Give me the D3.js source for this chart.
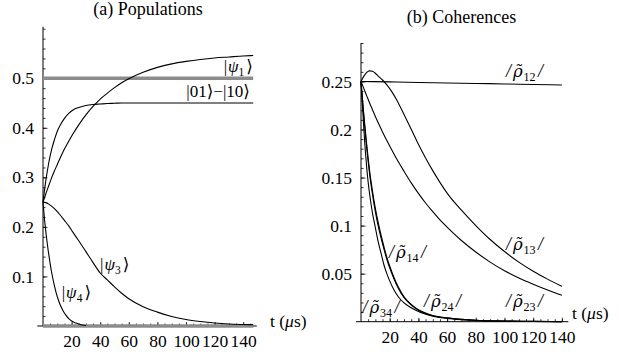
<!DOCTYPE html>
<html>
<head>
<meta charset="utf-8">
<script src="https://cdn.jsdelivr.net/npm/d3@7"></script>
<style>
  html, body { margin: 0; padding: 0; background: #fff; }
  svg { display: block; }
</style>
</head>
<body>
<script>
// ---------- data: (a) Populations ----------
const tL = [0,2,4,6,8,10,12,15,18,21,25,30,35,40,45,50,55,60,70,80,90,100,110,120,130,140,147];
const psi1 = [0.25,0.267,0.283,0.299,0.313,0.326,0.339,0.357,0.373,0.388,0.406,0.426,0.443,0.458,0.470,0.481,0.491,0.499,0.512,0.522,0.529,0.534,0.538,0.541,0.543,0.545,0.546];
const bellState = [0.25,0.294,0.329,0.356,0.376,0.393,0.405,0.419,0.429,0.436,0.441,0.445,0.447,0.448,0.449,0.4495,0.45,0.45,0.45,0.45,0.45,0.45,0.45,0.45,0.45,0.45,0.45];
const psi3 = [0.25,0.249,0.246,0.242,0.237,0.231,0.224,0.213,0.202,0.189,0.172,0.150,0.128,0.107,0.093,0.079,0.066,0.055,0.039,0.028,0.019,0.013,0.009,0.006,0.004,0.003,0.0025];
const tPsi4 = [0,1,2,3,4,5,6,8,10,12,14,16,18,20,23,26,30];
const psi4 = [0.25,0.217,0.19,0.166,0.145,0.126,0.109,0.081,0.059,0.043,0.031,0.022,0.015,0.010,0.006,0.003,0.001];
const grayT = [0, 147];
const grayLevels = [0.5, 0];

// ---------- data: (b) Coherences ----------
const tR = [0,2,4,6,8,10,12,15,18,21,25,30,35,40,45,50,55,60,70,80,90,100,110,120,130,140];
const rho13 = [0.25,0.2555,0.2595,0.261,0.2605,0.2585,0.2555,0.2515,0.2465,0.2405,0.2305,0.2155,0.2003,0.1846,0.1704,0.1572,0.145,0.1338,0.116,0.1,0.0855,0.073,0.062,0.0525,0.0443,0.0368];
const rho23 = [0.25,0.2425,0.235,0.2275,0.2205,0.2135,0.207,0.1975,0.1885,0.18,0.169,0.1565,0.1445,0.1335,0.1235,0.1145,0.106,0.0985,0.0845,0.0725,0.062,0.053,0.0455,0.039,0.033,0.0275];
const tRho12 = [0,20,40,60,80,100,120,140];
const rho12 = [0.25,0.2495,0.2489,0.2484,0.2479,0.2474,0.2468,0.2463];
const tFast = [0,1,2,3,4,5,6,7,8,10,12,14,16,18,20,23,26,30,35,40,45,50,60,70,80,100,120,140];
const rho14 = [0.25,0.232,0.215,0.199,0.184,0.170,0.157,0.146,0.136,0.118,0.103,0.090,0.078,0.067,0.058,0.046,0.036,0.026,0.018,0.0125,0.009,0.0065,0.004,0.0025,0.0015,0.0007,0.0003,0.0001];
const rho24 = [0.25,0.2305,0.2125,0.196,0.181,0.1665,0.1535,0.1425,0.1325,0.1145,0.0995,0.087,0.0755,0.065,0.056,0.0445,0.0348,0.025,0.0173,0.012,0.0086,0.0062,0.0038,0.0024,0.0014,0.0006,0.0003,0.0001];
const rho34 = [0.25,0.225,0.2,0.178,0.16,0.145,0.133,0.1225,0.113,0.098,0.083,0.071,0.059,0.050,0.0425,0.033,0.026,0.0195,0.0145,0.0105,0.0078,0.0057,0.0034,0.0021,0.0013,0.0005,0.0002,0.0001];

// ---------- ticks ----------
const xTicks = [20,40,60,80,100,120,140];
const xTickLabels = ["20","40","60","80","100","120","140"];
const yTicksL = [0.1,0.2,0.3,0.4,0.5];
const yTickLabelsL = ["0.1","0.2","0.3","0.4","0.5"];
const yTicksR = [0.05,0.1,0.15,0.2,0.25];
const yTickLabelsR = ["0.05","0.1","0.15","0.2","0.25"];

const SERIF = '"Liberation Serif", "Times New Roman", "DejaVu Serif", serif';
const W = 619, H = 358;
const svg = d3.select("body").append("svg").attr("width", W).attr("height", H);

const xL = d3.scaleLinear().domain([0,150]).range([43, 257.5]);
const yL = d3.scaleLinear().domain([0,0.6]).range([326, 28.7]);
const xR = d3.scaleLinear().domain([0,140]).range([361, 561.9]);
const yR = d3.scaleLinear().domain([0,0.29]).range([321.7, 43]);

const FS = 17.5;

function styleAxis(g) {
  g.select(".domain").remove();
  g.attr("font-family", SERIF).attr("font-size", FS);
  g.selectAll("text").style("font-family", SERIF).style("font-size", FS + "px").attr("fill", "#000");
  g.selectAll("line").attr("stroke", "#000").attr("stroke-width", 0.8);
}

function panel(x, y, xMin, xMax, yMax, yTicks, yLabels, yMinorStep) {
  const g = svg.append("g");
  const yMinor = d3.range(yMinorStep, yMax + 1e-9, yMinorStep);
  g.append("g").attr("transform", `translate(${x(0)},0)`)
    .call(d3.axisLeft(y).tickValues(yMinor).tickSize(-2.5).tickFormat(""))
    .call(styleAxis);
  g.append("g").attr("transform", `translate(${x(0)},0)`)
    .call(d3.axisLeft(y).tickValues(yTicks).tickFormat((d,i) => yLabels[i]).tickSize(-4.5).tickPadding(9))
    .call(styleAxis);
  const xMinor = d3.range(5, xMax, 5);
  g.append("g").attr("transform", `translate(0,${y(0)})`)
    .call(d3.axisBottom(x).tickValues(xMinor).tickSize(-2.5).tickFormat(""))
    .call(styleAxis);
  g.append("g").attr("transform", `translate(0,${y(0)})`)
    .call(d3.axisBottom(x).tickValues(xTicks).tickFormat((d,i) => xTickLabels[i]).tickSize(-4).tickPadding(8.5))
    .call(styleAxis);
  g.append("line").attr("x1", x(0)).attr("x2", x(0)).attr("y1", y(0)).attr("y2", y(yMax))
    .attr("stroke", "#000").attr("stroke-width", 1);
  g.append("line").attr("x1", x(xMin)).attr("x2", x(xMax)).attr("y1", y(0)).attr("y2", y(0))
    .attr("stroke", "#000").attr("stroke-width", 1);
  return g;
}

panel(xL, yL, -4, 149.5, 0.604, yTicksL, yTickLabelsL, 0.02);
panel(xR, yR, -3.5, 144.5, 0.29, yTicksR, yTickLabelsR, 0.01);

function drawLine(xs, ys, sx, sy, color, width) {
  const line = d3.line().x(d => sx(d[0])).y(d => sy(d[1])).curve(d3.curveMonotoneX);
  svg.append("path").datum(xs.map((t,i) => [t, ys[i]]))
    .attr("d", line).attr("fill", "none").attr("stroke", color).attr("stroke-width", width)
    .attr("stroke-linejoin", "round");
}

grayLevels.forEach(v => drawLine(grayT, grayT.map(() => v), xL, yL, "#8c8c8c", 3.6));
drawLine(tL, psi1, xL, yL, "#000", 1.1);
drawLine(tL, bellState, xL, yL, "#000", 1.1);
drawLine(tL, psi3, xL, yL, "#000", 1.1);
drawLine(tPsi4, psi4, xL, yL, "#000", 1.1);

drawLine(tRho12, rho12, xR, yR, "#000", 1.1);
drawLine(tR, rho13, xR, yR, "#000", 1.1);
drawLine(tR, rho23, xR, yR, "#000", 1.1);
drawLine(tFast, rho34, xR, yR, "#000", 1.1);
drawLine(tFast, rho24, xR, yR, "#000", 1.1);
drawLine(tFast, rho14, xR, yR, "#000", 1.1);

function txt(x, y, size, anchor) {
  return svg.append("text").attr("x", x).attr("y", y)
    .style("font-family", SERIF).style("font-size", size + "px")
    .attr("text-anchor", anchor || "start").attr("fill", "#000");
}

txt(148, 15, 18, "middle").text("(a) Populations");
txt(461.5, 23, 18, "middle").text("(b) Coherences");

function axisLabel(x, y) {
  const t = txt(x, y, FS);
  t.append("tspan").text("t (");
  t.append("tspan").style("font-style", "italic").text("\u03BC");
  t.append("tspan").text("s)");
}
axisLabel(270, 326.5);
axisLabel(572, 318.5);

const LFS = 17;
function ket(x, y, sub, anchor) {
  const t = txt(x, y, LFS, anchor);
  t.append("tspan").text("|");
  t.append("tspan").style("font-style", "italic").attr("dx", 1).text("\u03C8");
  t.append("tspan").style("font-size", "11.5px").attr("dy", 4).text(sub);
  t.append("tspan").attr("dy", -4).attr("dx", 2).text("\u27E9");
}
ket(253, 72, "1", "end");
ket(100, 270, "3");
ket(61.7, 298, "4");
txt(250, 97, LFS, "end").text("|01\u27E9\u2212|10\u27E9");

function rhoLabel(x, y, sub) {
  const t = txt(x, y, 18);
  t.append("tspan").style("font-style", "italic").text("/");
  t.append("tspan").style("font-style", "italic").style("font-family", '"DejaVu Serif", serif')
    .style("font-size", "16.5px").attr("dx", 2).text("\u03C1\u0303");
  t.append("tspan").style("font-size", "12px").attr("dx", 0.8).attr("dy", 4).text(sub);
  t.append("tspan").style("font-style", "italic").attr("dy", -4).attr("dx", 2.5).text("/");
}
rhoLabel(506, 77, "12");
rhoLabel(506, 250, "13");
rhoLabel(389, 258, "14");
rhoLabel(506, 307, "23");
rhoLabel(424, 307, "24");
rhoLabel(362.5, 313, "34");
</script>
</body>
</html>
